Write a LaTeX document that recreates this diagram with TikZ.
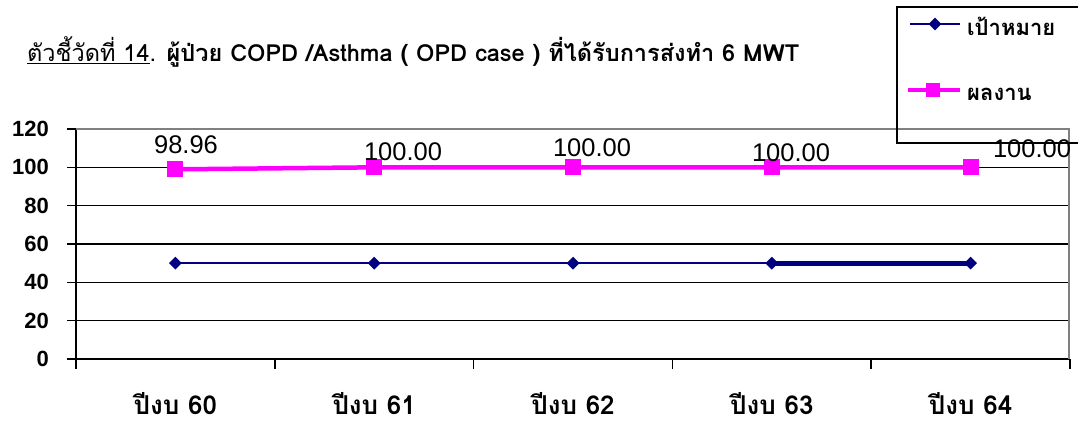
\documentclass[tikz,border=0pt]{standalone}
\usepackage{fontspec}
\setmainfont{DejaVu Sans}
\newfontfamily\thaifont[Script=Thai]{Loma}
\newfontfamily\valfont{Liberation Sans}
\usepackage{tikz}
\usetikzlibrary{shapes.geometric, positioning}
\definecolor{navy}{RGB}{0,0,128}
\definecolor{pink}{RGB}{255,0,255}

\begin{document}
\begin{tikzpicture}
	[x=1pt, y=-1pt,
	 grid/.style={black, line width=1.5pt},
	 target/.style={fill=navy, diamond, inner sep=0pt, minimum width=13pt, minimum height=13pt},
	 result/.style={fill=pink, inner sep=0pt, minimum size=16pt},
	 val/.style={font=\valfont\fontsize{25.5}{25.5}\selectfont, inner sep=0pt},
	 ylab/.style={font=\valfont\bfseries\fontsize{22}{22}\selectfont, anchor=east, inner sep=0pt},
	 xlab/.style={font=\thaifont\bfseries\fontsize{26}{26}\selectfont, inner sep=0pt},
	 leg/.style={font=\thaifont\bfseries\fontsize{22}{22}\selectfont, anchor=west, inner sep=0pt}]
   \useasboundingbox (0,0) rectangle (1078,425);

   % title
   \node[anchor=west, inner sep=0pt] (title) at (27,52)
     {\thaifont\fontsize{23.5}{23.5}\selectfont\underline{ตัวชี้วัดที่ 14}. \bfseries ผู้ป่วย COPD /Asthma ( OPD case ) ที่ได้รับการส่งทำ 6 MWT};

   % plot area, values up
   \begin{scope}[shift={(0,359)}, y=1.9167pt]
     \foreach \v in {0,20,...,120}
     {
       \draw[grid] (67,\v) -- (1069,\v);
       \node[ylab] (y_\v) at (49,\v) {\v};
     }
     \draw[grid] (76,0) -- (76,120);
     \draw[gray, line width=1.5pt] (76,120) -- (1069,120) -- (1069,0);
     \foreach \i in {0,...,5}
       \draw[grid] ({76+\i*198.8},0) -- ++(0,-5.2);

     \foreach \yr/\val [count=\i from 0] in {60/98.96,61/100,62/100,63/100,64/100}
     {
       \coordinate (t_\yr) at ({175.4+\i*198.8},50);
       \coordinate (r_\yr) at ({175.4+\i*198.8},\val);
     }

     \draw[navy, line width=1.5pt] (t_60) -- (t_61) -- (t_62) -- (t_63);
     \draw[navy, line width=5pt] (t_63) -- (t_64);
     \draw[pink, line width=4.5pt] (r_60) -- (r_61) -- (r_62) -- (r_63) -- (r_64);

     \foreach \yr in {60,...,64}
     {
       \node[target] (tm_\yr) at (t_\yr) {};
       \node[result] (rm_\yr) at (r_\yr) {};
     }
   \end{scope}

   % value labels
   \node[val] (v_60) at (186,145) {98.96};
   \node[val] (v_61) at (403,152) {100.00};
   \node[val] (v_62) at (592,148) {100.00};
   \node[val] (v_63) at (791,153) {100.00};
   \node[val] (v_64) at (1032,149) {100.00};

   % year labels
   \foreach \yr [count=\i from 0] in {60,...,64}
     \node[xlab] (x_\yr) at ({175.4+\i*198.8},404) {ปีงบ \yr};

   % legend
   \draw[black, line width=1.5pt] (1078,7) -- (897,7) -- (897,143) -- (1078,143);
   \coordinate (lt_a) at (910,24);
   \coordinate (lt_b) at (960,24);
   \coordinate (lr_a) at (908,90);
   \coordinate (lr_b) at (960,90);
   \draw[navy, line width=1.5pt] (lt_a) -- (lt_b);
   \draw[pink, line width=4.5pt] (lr_a) -- (lr_b);
   \node[target] (lt_m) at (935,24) {};
   \node[result, minimum size=14pt] (lr_m) at (933,90) {};
   \node[leg] (lt_t) at (967,26) {เป้าหมาย};
   \node[leg] (lr_t) at (967,94) {ผลงาน};
\end{tikzpicture}
\end{document}
